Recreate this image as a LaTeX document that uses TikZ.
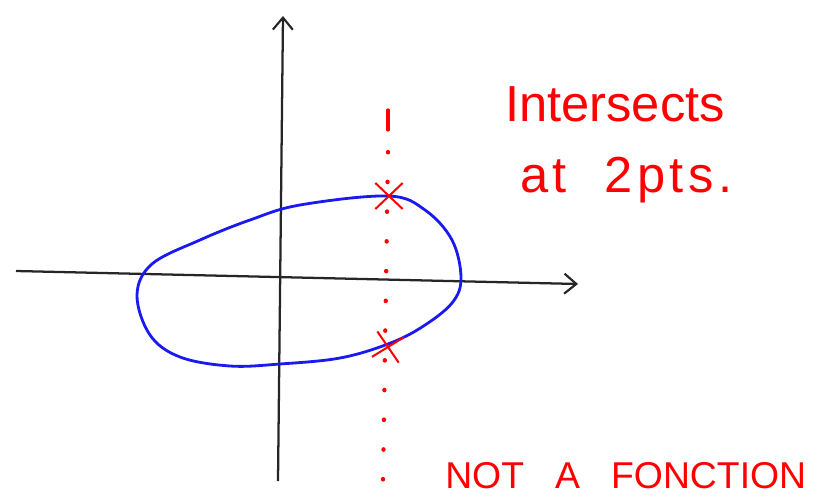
\documentclass[tikz,border=0pt]{standalone}
\usepackage{fontspec}
\setmainfont{Liberation Sans}
\newfontfamily\notefont{Liberation Sans}
\newfontfamily\widenotefont[WordSpace=2, LetterSpace=9]{Liberation Sans}
\newfontfamily\verdictfont[WordSpace=3]{Liberation Sans}
\usepackage{tikz}
\usetikzlibrary{arrows.meta, shapes.misc}

\definecolor{penred}{RGB}{255,0,0}
\definecolor{penblue}{RGB}{25,25,240}

\begin{document}
\begin{tikzpicture}[x=0.75pt, y=-0.75pt,
  axis/.style={line width=1.7pt, black!85,
    -{Straight Barb[length=9pt, width=15pt, line width=1.6pt]}},
  crossmark/.style={cross out, draw=penred, line width=1.5pt,
    minimum width=19pt, minimum height=18pt, inner sep=0pt},
  note/.style={text=penred, inner sep=0pt, anchor=base west}]

  \useasboundingbox (0,0) rectangle (818,503);

  % axes
  \coordinate (xstart) at (16,271);
  \coordinate (xend) at (578,284);
  \coordinate (ystart) at (278,481);
  \coordinate (yend) at (283,16);
  \draw[axis] (xstart) -- (xend);
  \draw[axis] (ystart) -- (yend);

  % the closed curve
  \draw[penblue, line width=2.1pt] plot[smooth cycle, tension=0.6] coordinates {
    (137,295) (152,264) (200,240) (250,220) (300,205) (388,196) (425,210)
    (452,240) (461,278) (452,303) (422,327) (388,344) (340,358) (280,364)
    (230,366) (180,357) (150,335)};

  % vertical line test
  \coordinate (vtop) at (388,110);
  \coordinate (vdash) at (388,130);
  \coordinate (vdots) at (388,152);
  \coordinate (vbottom) at (383,480);
  \draw[penred, line width=2.4pt, line cap=round] (vtop) -- (vdash);
  \draw[penred, line width=3.2pt, line cap=round, dash pattern=on 0.3pt off 22pt]
    (vdots) -- (vbottom);

  % the two hits
  \node[crossmark] (upperhit) at (389,196) {};
  \node[crossmark, rotate=-12] (lowerhit) at (388,347) {};

  % notes
  \node[note, font=\notefont\fontsize{38}{40}\selectfont] (hits) at (505,122) {Intersects};
  \node[note, font=\widenotefont\fontsize{38}{40}\selectfont] (twopts) at (520,192) {at 2pts.};
  \node[note, font=\verdictfont\fontsize{28}{30}\selectfont] (verdict) at (445,488) {NOT A FONCTION};

\end{tikzpicture}
\end{document}
